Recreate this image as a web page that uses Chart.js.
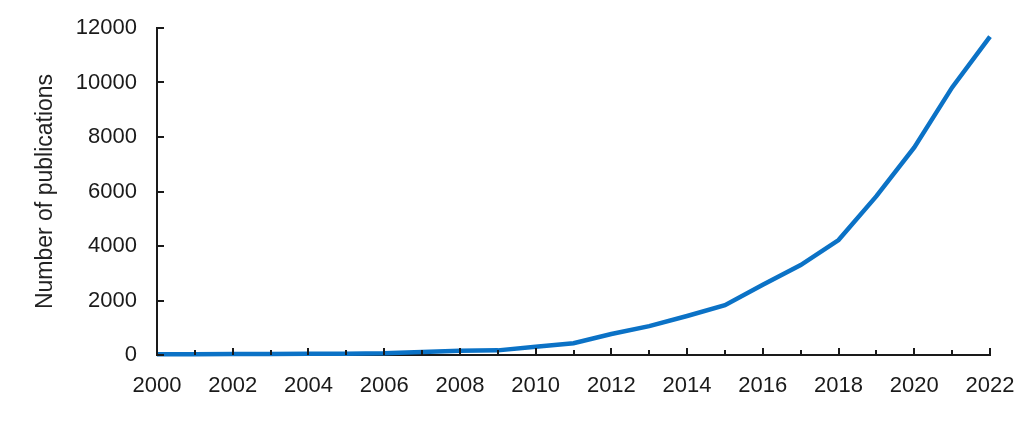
<!DOCTYPE html>
<html lang="en">
<head>
    <meta charset="UTF-8">
    <title>Number of publications per year</title>
    <script src="https://cdn.jsdelivr.net/npm/chart.js@4.4.0/dist/chart.umd.min.js"></script>
    <style>
        html, body { margin: 0; padding: 0; background: #fff; }
        .wrap { width: 1031px; height: 421px; }
    </style>
</head>
<body>
    <div class="wrap"><canvas id="pubChart" width="1031" height="421"></canvas></div>
    <script>
        const years = [2000, 2001, 2002, 2003, 2004, 2005, 2006, 2007, 2008, 2009, 2010, 2011,
                       2012, 2013, 2014, 2015, 2016, 2017, 2018, 2019, 2020, 2021, 2022];
        const publications = [30, 30, 35, 40, 45, 50, 60, 110, 160, 170, 300, 430,
                               770, 1060, 1430, 1830, 2580, 3300, 4220, 5830, 7620, 9820, 11680];
        const yTicks = [0, 2000, 4000, 6000, 8000, 10000, 12000];

        const ink = '#1a1a1a';
        const fontFamily = 'Arial, "Liberation Sans", sans-serif';

        // short tick marks pointing into the plot, like the original figure
        const innerTicks = {
            id: 'innerTicks',
            afterDraw(chart) {
                const ctx = chart.ctx;
                const xs = chart.scales.x, ys = chart.scales.y;
                const bottom = ys.getPixelForValue(0);
                const left = xs.getPixelForValue(years[0]);
                ctx.save();
                ctx.strokeStyle = ink;
                ctx.lineWidth = 2;
                years.forEach(y => {
                    const px = Math.round(xs.getPixelForValue(y));
                    const len = y % 2 === 0 ? 7 : 5;
                    ctx.beginPath();
                    ctx.moveTo(px, bottom);
                    ctx.lineTo(px, bottom - len);
                    ctx.stroke();
                });
                yTicks.forEach(v => {
                    const py = Math.round(ys.getPixelForValue(v));
                    ctx.beginPath();
                    ctx.moveTo(left, py);
                    ctx.lineTo(left + 7, py);
                    ctx.stroke();
                });
                ctx.restore();
            }
        };

        new Chart(document.getElementById('pubChart'), {
            type: 'line',
            data: {
                datasets: [{
                    data: years.map((y, i) => ({ x: y, y: publications[i] })),
                    borderColor: '#0b72c6',
                    borderWidth: 4.5,
                    pointRadius: 0,
                    tension: 0,
                    clip: false
                }]
            },
            options: {
                responsive: false,
                animation: false,
                layout: { padding: { top: 28, right: 41, left: 0, bottom: 0 } },
                plugins: { legend: { display: false }, tooltip: { enabled: false } },
                scales: {
                    x: {
                        type: 'linear',
                        min: 2000,
                        max: 2022,
                        afterFit(s) { s.height = 66; s.paddingLeft = 0; s.paddingRight = 0; },
                        grid: { display: false, drawTicks: false },
                        border: { display: true, color: ink, width: 2 },
                        ticks: {
                            stepSize: 2,
                            padding: 18,
                            color: ink,
                            font: { family: fontFamily, size: 22 },
                            callback: v => String(v),
                            maxRotation: 0
                        }
                    },
                    y: {
                        min: 0,
                        max: 12000,
                        afterFit(s) { s.width = 157; s.paddingTop = 0; s.paddingBottom = 0; },
                        grid: { display: false, drawTicks: false },
                        border: { display: true, color: ink, width: 2 },
                        afterBuildTicks(s) { s.ticks = yTicks.map(v => ({ value: v })); },
                        ticks: {
                            padding: 20,
                            color: ink,
                            font: { family: fontFamily, size: 22 },
                            callback: v => String(v)
                        },
                        title: {
                            display: true,
                            text: 'Number of publications',
                            color: '#222',
                            padding: { top: 32, bottom: 0 },
                            font: { family: fontFamily, size: 23 }
                        }
                    }
                }
            },
            plugins: [innerTicks]
        });
    </script>
</body>
</html>
